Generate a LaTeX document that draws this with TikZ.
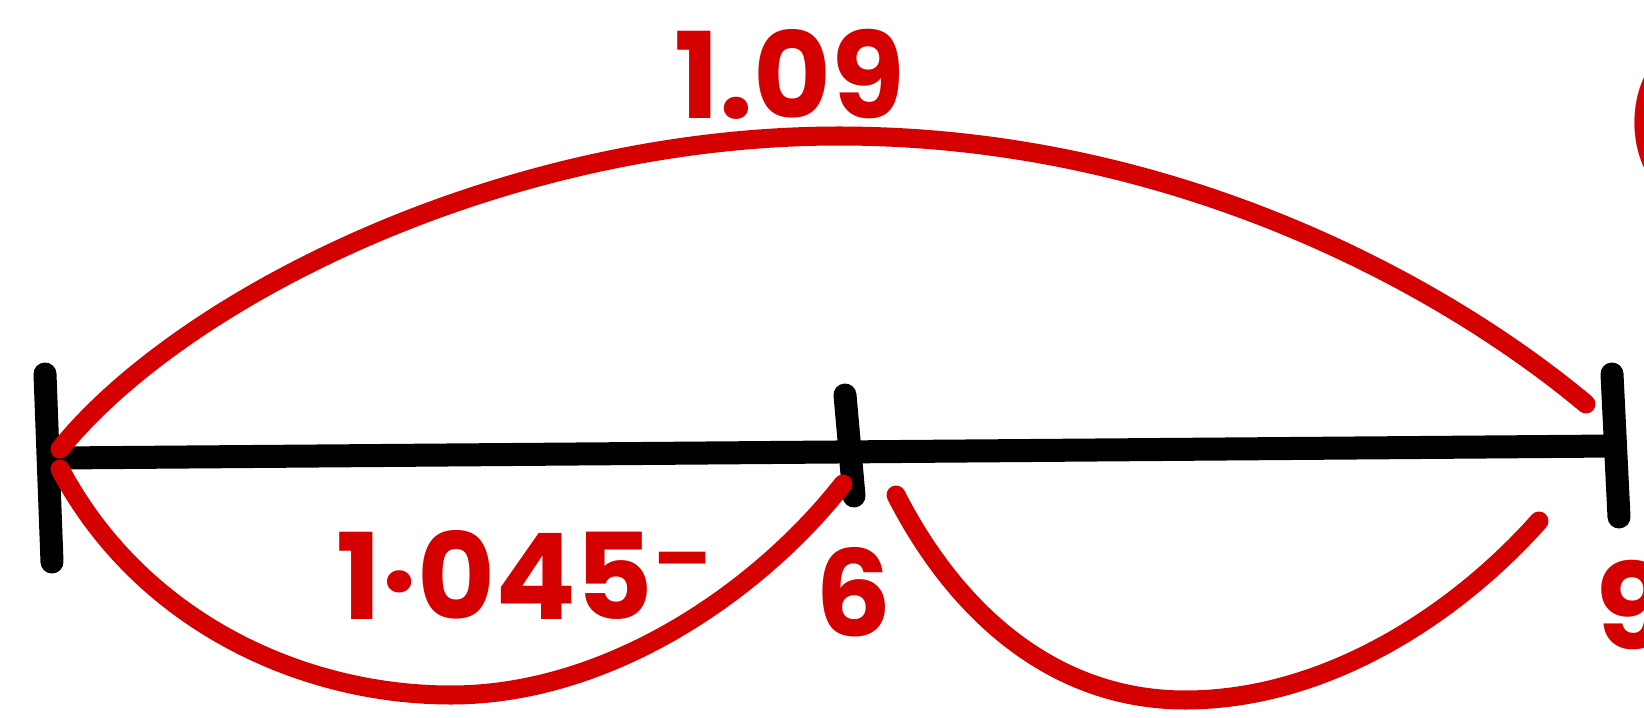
\documentclass[tikz,border=0pt]{standalone}
\usepackage{fontspec}
\setmainfont{Poppins}
\usepackage{xcolor}
\definecolor{handred}{HTML}{D50000}
\usepackage{tikz}
\usetikzlibrary{positioning}

\begin{document}
\begin{tikzpicture}[
  x=0.01cm,y=-0.01cm,
  axis/.style={draw=black,line width=0.23cm,line cap=round},
  arc/.style={draw=handred,line width=0.19cm,line cap=round},
  numlabel/.style={text=handred,inner sep=0pt,
                   font=\fontsize{34}{40}\selectfont\bfseries}
]
\clip (0,0) rectangle (1644,718);
% number line and ticks
\coordinate (lft) at (58,458);
\coordinate (mid) at (850,451);
\coordinate (rgt) at (1615,446);
\coordinate (lfttop) at (45,374);  \coordinate (lftbot) at (52,562);
\coordinate (midtop) at (845,395); \coordinate (midbot) at (854,496);
\coordinate (rgttop) at (1612,374);\coordinate (rgtbot) at (1619,517);
\draw[axis] (lft) -- (rgt);
\draw[axis] (lfttop) -- (lftbot);
\draw[axis] (midtop) -- (midbot);
\draw[axis] (rgttop) -- (rgtbot);
% jumps
\coordinate (topstart) at (60,449);
\coordinate (toppeak) at (839,136);
\coordinate (topend) at (1586,404);
\draw[arc] (topstart) .. controls (180,300) and (500,136) .. (toppeak)
  .. controls (1180,136) and (1450,290) .. (topend);
\coordinate (lstart) at (60,469);
\coordinate (lbottom) at (451,695);
\coordinate (lend) at (843,484);
\draw[arc] (lstart) .. controls (140,620) and (300,695) .. (lbottom)
  .. controls (610,695) and (760,590) .. (lend);
\coordinate (rstart) at (896,495);
\coordinate (rbottom) at (1185,700);
\coordinate (rend) at (1539,521);
\draw[arc] (rstart) .. controls (960,620) and (1060,700) .. (rbottom)
  .. controls (1330,700) and (1460,610) .. (rend);
% labels
\node[numlabel,anchor=south] (whole) at (790,120) {1.09};
\node[numlabel] (half) at (525,575) {1·045\textsuperscript{–}};
\node[numlabel] (six) at (854,592) {6};
\node[numlabel] (nine) at (1632,605) {9};
\node[numlabel,anchor=west] (paren) at (1624,122) {(};
\end{tikzpicture}
\end{document}
